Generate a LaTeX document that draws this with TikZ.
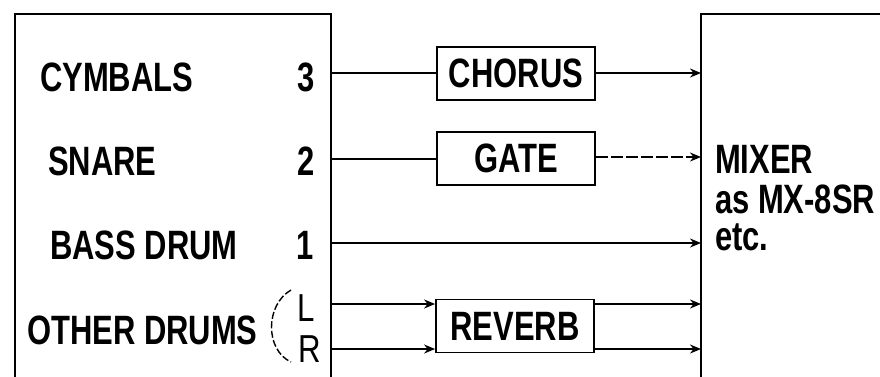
\documentclass[tikz,border=0pt]{standalone}
\usepackage{fontspec}
\setmainfont[FakeStretch=0.755]{Liberation Sans Bold}
\newfontfamily\thinfont[FakeStretch=0.8]{Liberation Sans}
\usetikzlibrary{arrows.meta}

\begin{document}
\begin{tikzpicture}[x=1pt,y=-1pt,
  lbl/.style={inner sep=0pt, font=\fontsize{41}{40}\selectfont},
  chan/.style={inner sep=0pt, font=\thinfont\fontsize{39}{40}\selectfont},
  fxbox/.style={draw, line width=1.8pt, minimum width=158pt, minimum height=53pt,
                inner sep=0pt, font=\fontsize{41}{40}\selectfont},
  frame/.style={line width=2pt},
  wire/.style={line width=1.7pt},
  sig/.style={wire, -{Stealth[length=11pt,width=9pt]}}]

\fill[white] (0,0) rectangle (880,376);
\clip (0,0) rectangle (880,376);

% drum machine outputs
\draw[frame] (15,380) -- (15,14) -- (331,14) -- (331,380);
\node[lbl, anchor=west] (cym)   at (40,77)  {CYMBALS};
\node[lbl, anchor=west] (snare) at (48,161) {SNARE};
\node[lbl, anchor=west] (bass)  at (50,245) {BASS DRUM};
\node[lbl, anchor=west] (other) at (27,330) {OTHER DRUMS};
\node[lbl, anchor=east] (n3) at (315,77)  {3};
\node[lbl, anchor=east] (n2) at (315,161) {2};
\node[lbl, anchor=east] (n1) at (314,245) {1};
\node[chan, anchor=east] (nl) at (315,308) {L};
\node[chan, anchor=east] (nr) at (321,349) {R};
\draw[line width=1.4pt, dash pattern=on 7pt off 2.5pt]
  (291,290) .. controls (265,305) and (265,350) .. (291,362);

\coordinate (p3) at (331,73);
\coordinate (p2) at (331,159);
\coordinate (p1) at (331,243);
\coordinate (pl) at (331,304);
\coordinate (pr) at (331,349);

% effect units
\node[fxbox] (chorus) at (516,73.5)  {CHORUS};
\node[fxbox] (gate)   at (516,158.5) {GATE};
\node[fxbox] (reverb) at (515,326)   {REVERB};

% mixer
\draw[frame] (701,380) -- (701,14) -- (885,14);
\coordinate (m3) at (701,73);
\coordinate (m2) at (701,157);
\coordinate (m1) at (701,243);
\coordinate (ml) at (701,304);
\coordinate (mr) at (701,349);
\node[lbl, anchor=north west, align=left] (mixer) at (715,145)
  {MIXER\\as MX-8SR\\[-3pt]etc.};

% signal routing
\draw[wire] (p3) -- (p3 -| chorus.west);
\draw[sig]  (chorus.east |- m3) -- (m3);
\draw[wire] (p2) -- (p2 -| gate.west);
\draw[sig, dash pattern=on 12pt off 3pt] (gate.east |- m2) -- (m2);
\draw[sig]  (p1) -- (m1);
\draw[sig]  (pl) -- (pl -| reverb.west);
\draw[sig]  (pr) -- (pr -| reverb.west);
\draw[sig]  (reverb.east |- ml) -- (ml);
\draw[sig]  (reverb.east |- mr) -- (mr);
\end{tikzpicture}
\end{document}
